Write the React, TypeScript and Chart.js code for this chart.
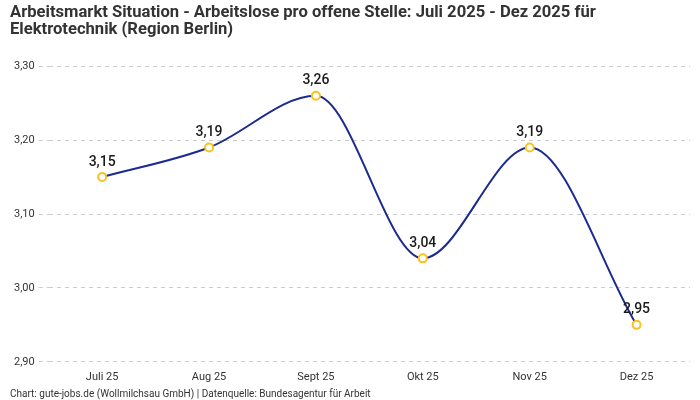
import { useEffect, useRef } from "react";
import { Chart, registerables } from "chart.js";

Chart.register(...registerables);

const months = ["Juli 25", "Aug 25", "Sept 25", "Okt 25", "Nov 25", "Dez 25"];
const ratio = [3.15, 3.19, 3.26, 3.04, 3.19, 2.95];
const titleLines = [
  "Arbeitsmarkt Situation - Arbeitslose pro offene Stelle: Juli 2025 - Dez 2025 für",
  "Elektrotechnik (Region Berlin)",
];
const sourceNote =
  "Chart: gute-jobs.de (Wollmilchsau GmbH) | Datenquelle: Bundesagentur für Arbeit";

const FONT = "Roboto, 'Noto Sans', sans-serif";
const fmt = (v: number) => v.toFixed(2).replace(".", ",");

// draws the value above each point
const valueLabels = {
  id: "valueLabels",
  afterDatasetsDraw(chart: any) {
    const ctx = chart.ctx;
    const meta = chart.getDatasetMeta(0);
    ctx.save();
    ctx.font = `500 14px ${FONT}`;
    ctx.fillStyle = "#1a1a1a";
    ctx.textAlign = "center";
    ctx.textBaseline = "bottom";
    meta.data.forEach((pt: any, i: number) => {
      ctx.fillText(fmt(ratio[i]), pt.x, pt.y - 8);
    });
    ctx.restore();
  },
};

export default function App() {
  const canvasRef = useRef<HTMLCanvasElement | null>(null);

  useEffect(() => {
    if (!canvasRef.current) return;

    const chart = new Chart(canvasRef.current, {
      type: "line",
      data: {
        labels: months,
        datasets: [
          {
            data: ratio,
            borderColor: "#1c2b8f",
            borderWidth: 2,
            cubicInterpolationMode: "monotone",
            pointRadius: 4,
            pointBorderWidth: 2,
            pointBackgroundColor: "#ffffff",
            pointBorderColor: "#f7c31e",
            fill: false,
          },
        ],
      },
      options: {
        responsive: true,
        maintainAspectRatio: false,
        animation: false,
        layout: { padding: { left: 10, right: 10, top: 0, bottom: 0 } },
        plugins: {
          legend: { display: false },
          tooltip: { enabled: false },
          title: {
            display: true,
            text: titleLines,
            align: "start",
            color: "#333333",
            font: { size: 16.6, weight: "bold", family: FONT, lineHeight: 1.0 },
            padding: { top: 5, bottom: 28 },
          },
          subtitle: {
            display: true,
            text: sourceNote,
            position: "bottom",
            align: "start",
            color: "#333333",
            font: { size: 10, family: FONT },
            padding: { top: 3, bottom: 0 },
          },
        },
        scales: {
          x: {
            offset: true,
            grid: { display: false },
            border: { display: false },
            ticks: { padding: 1, color: "#333333", font: { size: 11, family: FONT } },
          },
          y: {
            min: 2.9,
            max: 3.3,
            border: { display: false, dash: [4, 4] },
            grid: { color: "#cccccc", tickLength: 10, tickBorderDash: [4, 4] },
            ticks: {
              stepSize: 0.1,
              padding: 4,
              color: "#333333",
              font: { size: 11, family: FONT },
              callback: (v: any) => fmt(Number(v)),
            },
          },
        },
      },
      plugins: [valueLabels],
    });

    return () => chart.destroy();
  }, []);

  return (
    <div style={{ position: "fixed", left: 0, top: 0, width: 700, height: 400, background: "#fff" }}>
      <canvas ref={canvasRef}></canvas>
    </div>
  );
}
